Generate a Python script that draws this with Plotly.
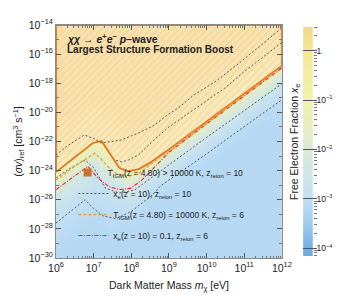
import numpy as np
import plotly.graph_objects as go

FONT = "Liberation Sans, Arial, Helvetica, sans-serif"

# ---------------- data (log10 values) ----------------
x_range = [6.0, 12.0]      # log10 m_chi [eV]
y_range = [-30.0, -14.0]   # log10 <sigma v>_ref [cm^3/s]

mass_grid = [6.0, 6.5, 7.0, 7.5, 8.0, 8.5, 9.0, 9.5, 10.0, 10.5, 11.0, 11.5, 12.0]
sigma_grid = [-30, -29, -28, -27, -26, -25, -24, -23, -22, -21, -20, -19, -18, -17, -16, -15, -14]
# log10 x_e, one list per mass column, from sigma=-30 up to sigma=-14
xe_columns = [
    [-3.16, -3.10, -3.04, -2.87, -2.57, -1.92, -1.10, -0.66, -0.23, 0.12] + [0.3] * 7,
    [-3.16, -3.16, -3.10, -3.04, -2.87, -2.57, -1.92, -1.10, -0.55, -0.16, 0.16] + [0.3] * 6,
    [-3.16, -3.16, -3.16, -3.10, -3.04, -2.87, -2.57, -1.92, -1.10, -0.55, -0.16, 0.16] + [0.3] * 5,
    [-3.16, -3.16, -3.10, -3.04, -2.87, -2.57, -1.92, -1.10, -0.55, -0.16, 0.16] + [0.3] * 6,
    [-3.16, -3.16, -3.12, -3.05, -2.80, -2.20, -1.15, -0.60, -0.20, 0.15] + [0.3] * 7,
    [-3.16, -3.16, -3.16, -3.16, -3.11, -2.93, -2.12, -0.95, -0.40, -0.04, 0.20] + [0.3] * 6,
    [-3.16] * 5 + [-3.10, -2.90, -2.00, -0.90, -0.35, 0.00, 0.22] + [0.3] * 5,
    [-3.16] * 6 + [-3.10, -2.90, -2.00, -0.90, -0.35, 0.00, 0.22] + [0.3] * 4,
    [-3.16] * 7 + [-3.09, -2.84, -1.83, -0.84, -0.32, 0.03, 0.24] + [0.3] * 3,
    [-3.16] * 8 + [-3.08, -2.78, -1.66, -0.78, -0.29, 0.06, 0.25, 0.3, 0.3],
    [-3.16] * 9 + [-3.08, -2.78, -1.66, -0.78, -0.29, 0.06, 0.25, 0.3],
    [-3.16] * 10 + [-3.07, -2.72, -1.49, -0.72, -0.26, 0.09, 0.27],
    [-3.16] * 11 + [-3.07, -2.72, -1.49, -0.72, -0.26, 0.09],
]

# T_IGM(z=4.80) > 10000 K, z_reion = 10 (excluded above)
tigm10_logm = [6.0, 6.5, 6.98, 7.21, 7.45, 7.68, 7.85, 7.98, 8.2, 8.5, 9.0, 9.5, 10.0, 10.5, 11.0, 11.5, 12.0]
tigm10_logsv = [-24.1, -23.1, -22.1, -21.97, -22.9, -23.8, -24.0, -24.02, -23.9, -23.45, -22.55, -21.6, -20.65, -19.7, -18.7, -17.75, -16.8]

# T_IGM(z=4.80) = 10000 K, z_reion = 6
tigm6_logm = [6.0, 6.5, 7.03, 7.2, 7.37, 7.6, 7.9, 8.2, 8.5, 9.0, 9.5, 10.0, 10.5, 11.0, 11.5, 12.0]
tigm6_logsv = [-24.65, -23.7, -22.8, -23.2, -23.7, -24.2, -24.4, -24.2, -23.6, -22.6, -21.65, -20.7, -19.75, -18.75, -17.8, -16.85]

# x_e(z=10) = 0.1, z_reion = 6
xe01_logm = [6.0, 6.13, 6.5, 6.85, 7.11, 7.4, 7.7, 8.0, 8.3, 8.6, 9.0, 9.5, 10.0, 10.5, 11.0, 11.5, 12.0]
xe01_logsv = [-25.3, -25.06, -24.4, -23.7, -24.5, -25.1, -25.3, -25.2, -24.6, -23.8, -22.75, -21.75, -20.8, -19.85, -18.85, -17.9, -16.95]

# x_e(z=10) contours, z_reion = 10
xeA_logm = [6.0, 6.3, 6.75, 7.0, 7.21, 7.5, 7.73, 8.19, 8.6, 8.96, 9.3, 9.66, 10.18, 10.77, 11.2, 11.6, 12.0]
xeA_logsv = [-22.93, -22.3, -21.55, -21.8, -22.1, -22.0, -21.9, -21.42, -20.9, -20.18, -19.6, -18.8, -17.98, -16.82, -15.92, -15.1, -14.2]
xeB_logm = [7.6, 7.75, 7.93, 8.2, 8.6, 9.0, 9.5, 10.0, 10.5, 11.0, 11.5, 12.0]
xeB_logsv = [-23.3, -23.4, -23.27, -22.9, -21.9, -21.0, -20.1, -19.2, -18.3, -17.2, -16.2, -15.2]
xeC_logm = [6.0, 6.4, 6.77, 7.0, 7.31, 7.68, 8.09, 8.53, 8.86, 9.5, 10.0, 10.5, 11.0, 11.5, 12.03]
xeC_logsv = [-24.5, -23.8, -23.27, -23.8, -25.2, -25.54, -25.33, -24.5, -23.82, -22.65, -21.72, -20.8, -19.9, -18.95, -17.98]
xeD_logm = [6.0, 6.4, 6.77, 7.0, 7.24, 7.6, 8.0, 8.53, 8.8, 9.5, 10.0, 10.95, 11.5, 12.03]
xeD_logsv = [-27.6, -26.75, -26.0, -26.6, -27.1, -27.3, -26.8, -25.74, -25.0, -23.75, -22.85, -21.07, -20.05, -19.08]

mass_ticks = [6, 7, 8, 9, 10, 11, 12]
sigma_ticks = [-30, -28, -26, -24, -22, -20, -18, -16, -14]
xe_ticks = [-4, -3, -2, -1, 0]
xe_ticktext = ["10<sup>−4</sup>", "10<sup>−3</sup>", "10<sup>−2</sup>", "10<sup>−1</sup>", "1"]
xe_range = [-4.16, 0.48]

cb_levels = [-4.16, -4.0, -3.5, -3.0, -2.5, -2.0, -1.5, -1.0, -0.5, 0.0, 0.48]
cb_colors = ["rgb(105,170,228)", "rgb(114,176,231)", "rgb(160,203,238)", "rgb(192,222,244)",
             "rgb(207,229,232)", "rgb(219,234,212)", "rgb(231,238,192)", "rgb(240,242,172)",
             "rgb(243,238,160)", "rgb(243,230,150)", "rgb(240,218,138)"]

# ---------------- derived ----------------
colorscale = [[(lv - xe_range[0]) / (xe_range[1] - xe_range[0]), c] for lv, c in zip(cb_levels, cb_colors)]
z_main = np.array(xe_columns).T.tolist()

def sup(n):
    return "10<sup>%s</sup>" % (str(n).replace("-", "−"))

mass_minor = [n + np.log10(k) for n in range(6, 12) for k in range(2, 10)]
sigma_minor = [n for n in range(-29, -14, 2)]
xe_minor = [n + np.log10(k) for n in range(-5, 1) for k in range(2, 10)
            if xe_range[0] <= n + np.log10(k) <= xe_range[1]]

ORANGE = "#e2761b"
GRAY = "#4a4a4a"

fig = go.Figure()

fig.add_trace(go.Heatmap(x=mass_grid, y=sigma_grid, z=z_main, zsmooth="best",
                         colorscale=colorscale, zmin=xe_range[0], zmax=xe_range[1],
                         showscale=False, hoverinfo="skip"))

# hatched excluded region
fig.add_trace(go.Scatter(
    x=tigm10_logm + [x_range[1], x_range[0], x_range[0]],
    y=tigm10_logsv + [y_range[1], y_range[1], tigm10_logsv[0]],
    mode="lines", fill="toself",
    fillcolor="rgba(252,228,196,0.6)",
    fillpattern=dict(shape="/", size=5, solidity=0.22, fgcolor="rgba(238,168,98,0.6)",
                     bgcolor="rgba(252,228,196,0.6)"),
    line=dict(color=ORANGE, width=1.8), showlegend=False, hoverinfo="skip"))

contours = [(xeA_logm, xeA_logsv), (xeB_logm, xeB_logsv), (xeC_logm, xeC_logsv), (xeD_logm, xeD_logsv)]
for i, (cx, cy) in enumerate(contours):
    fig.add_trace(go.Scatter(x=cx, y=cy, mode="lines",
                             line=dict(color=GRAY, width=0.9, dash="2px,2px"),
                             name="x<sub>e</sub>(z = 10), z<sub>reion</sub> = 10",
                             legendgroup="g2", legendrank=2, showlegend=(i == 0), hoverinfo="skip"))

fig.add_trace(go.Scatter(x=tigm6_logm, y=tigm6_logsv, mode="lines",
                         line=dict(color="#f2a024", width=1.3, dash="3px,2px"),
                         name="T<sub>IGM</sub>(z = 4.80) = 10000 K, z<sub>reion</sub> = 6",
                         legendgroup="g3", legendrank=3, hoverinfo="skip"))
fig.add_trace(go.Scatter(x=xe01_logm, y=xe01_logsv, mode="lines",
                         line=dict(color="#e8262a", width=1.1, dash="4px,1.5px,1px,1.5px"),
                         name="x<sub>e</sub>(z = 10) = 0.1, z<sub>reion</sub> = 6",
                         legendgroup="g4", legendrank=4, hoverinfo="skip"))
# legend entry for the hatched region
fig.add_trace(go.Scatter(x=[None], y=[None], mode="markers",
                         marker=dict(symbol="square", size=8, color="#c8722a"),
                         name="T<sub>IGM</sub>(z = 4.80) > 10000 K, z<sub>reion</sub> = 10",
                         legend="legend2"))

# colour bar built as its own small subplot
fig.add_trace(go.Heatmap(x=[0, 1], y=cb_levels, z=[[v, v] for v in cb_levels], zsmooth="best",
                         colorscale=colorscale, zmin=xe_range[0], zmax=xe_range[1],
                         showscale=False, xaxis="x2", yaxis="y2", hoverinfo="skip"))
fig.add_trace(go.Scatter(x=[None], y=[None], xaxis="x2", yaxis="y3", showlegend=False))

W, H = 340, 299
ml, mr, mt, mb = 48, 5, 17, 49
pw = W - ml - mr
ph = H - mt - mb
def px2x(px):
    return (px - ml) / pw
def py2y(py):
    return (H - mb - py) / ph

main_dom = [0, px2x(282)]
axis_common = dict(showgrid=False, zeroline=False, showline=True, linecolor="#8a8a8a", linewidth=1,
                   ticks="inside", ticklen=5, tickcolor="#555", mirror="ticks",
                   tickfont=dict(family=FONT, size=10.5, color="#222"))
legend_common = dict(xanchor="left", yanchor="top", bgcolor="rgba(0,0,0,0)",
                     font=dict(family=FONT, size=8.5, color="#222"), itemwidth=30)

fig.update_layout(
    width=W, height=H, margin=dict(l=ml, r=mr, t=mt, b=mb),
    paper_bgcolor="white", plot_bgcolor="white",
    font=dict(family=FONT, color="#222"),
    xaxis=dict(domain=main_dom, range=x_range, tickvals=mass_ticks,
               ticktext=[sup(n) for n in mass_ticks],
               minor=dict(tickvals=mass_minor, ticks="inside", ticklen=2.5, tickcolor="#777"),
               **axis_common),
    yaxis=dict(domain=[0, 1], range=y_range, tickvals=sigma_ticks,
               ticktext=[sup(n) for n in sigma_ticks],
               minor=dict(tickvals=sigma_minor, ticks="inside", ticklen=3, tickcolor="#777"),
               **axis_common),
    xaxis2=dict(domain=[px2x(304), px2x(314)], range=[0, 1], visible=False, anchor="y2"),
    yaxis2=dict(domain=[py2y(248), py2y(19)], range=xe_range, anchor="x2", side="left",
                tickvals=xe_ticks, ticks="inside", ticklen=14, tickcolor="#555",
                showticklabels=False, showgrid=False, zeroline=False, showline=False),
    yaxis3=dict(overlaying="y2", range=xe_range, anchor="x2", side="right",
                tickvals=xe_ticks, ticktext=xe_ticktext, ticks="outside", ticklen=1, tickcolor="#555",
                minor=dict(tickvals=xe_minor, ticks="outside", ticklen=3, tickcolor="#777"),
                showgrid=False, zeroline=False, showline=False,
                tickfont=dict(family=FONT, size=8.5, color="#222")),
    legend=dict(x=px2x(66), y=py2y(171), tracegroupgap=2, traceorder="grouped", **legend_common),
    legend2=dict(x=px2x(60), y=py2y(150), **legend_common),
    showlegend=True,
)

ann = [
    dict(x=px2x(57), y=py2y(30), text="<b><i>χχ</i> → <i>e</i><sup>+</sup><i>e</i><sup>−</sup> <i>p</i>–wave</b>",
         font=dict(size=10.5)),
    dict(x=px2x(57), y=py2y(42), text="<b>Largest Structure Formation Boost</b>", font=dict(size=10)),
]
for a in ann:
    fig.add_annotation(xref="paper", yref="paper", xanchor="left", yanchor="middle",
                       showarrow=False, **a)

fig.add_annotation(xref="paper", yref="paper", x=px2x(165), y=py2y(278),
                   text="Dark Matter Mass <i>m</i><sub>χ</sub> [eV]", showarrow=False,
                   font=dict(size=10.5), xanchor="center", yanchor="middle")
fig.add_annotation(xref="paper", yref="paper", x=px2x(9), y=0.5,
                   text="(<i>σv</i>)<sub>ref</sub> [cm<sup>3</sup> s<sup>−1</sup>]", showarrow=False,
                   textangle=-90, font=dict(size=10.5), xanchor="center", yanchor="middle")
fig.add_annotation(xref="paper", yref="paper", x=px2x(295), y=0.5,
                   text="Free Electron Fraction <i>x</i><sub>e</sub>", showarrow=False,
                   textangle=-90, font=dict(size=10.5), xanchor="center", yanchor="middle")

fig.write_html("out.html")
